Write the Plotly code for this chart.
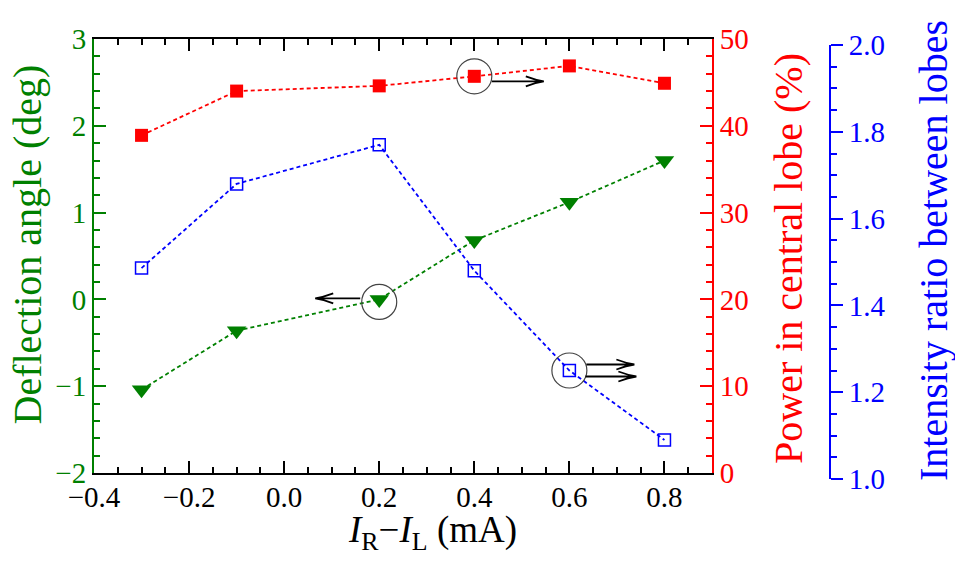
import plotly.graph_objects as go

# ---- data ----
current = [-0.3, -0.1, 0.2, 0.4, 0.6, 0.8]          # I_R - I_L (mA)
deflection = [-1.04, -0.36, 0.0, 0.68, 1.12, 1.60]  # deg
power = [38.9, 44.0, 44.6, 45.7, 46.9, 44.9]        # %
ratio = [1.486, 1.68, 1.77, 1.48, 1.25, 1.09]       # intensity ratio

GREEN = "#008000"
RED = "#ff0000"
BLUE = "#0000ff"
FONT = "Liberation Serif"
TICK = 29
TITLE = 40

W, H = 955, 563
L, R, T, B = 94, 125, 39, 84          # paper: x 94..830, y 39..479
PW, PH = W - L - R, H - T - B
PLOT_RIGHT, PLOT_BOTTOM, BLUE_TOP = 712, 473, 45

def px(xp):
    return (xp - L) / PW

def py(yp):
    return (H - B - yp) / PH

fig = go.Figure()
fig.add_trace(go.Scatter(
    x=current, y=deflection, yaxis="y", mode="lines+markers",
    line=dict(color=GREEN, width=1.8, dash="4px,3px"),
    marker=dict(symbol="triangle-down", size=17, color=GREEN, line=dict(width=0)),
    showlegend=False))
fig.add_trace(go.Scatter(
    x=current, y=power, yaxis="y2", mode="lines+markers",
    line=dict(color=RED, width=1.8, dash="4px,3px"),
    marker=dict(symbol="square", size=13, color=RED, line=dict(width=0)),
    showlegend=False))
fig.add_trace(go.Scatter(
    x=current, y=ratio, yaxis="y3", mode="lines+markers",
    line=dict(color=BLUE, width=1.8, dash="4px,3px"),
    marker=dict(symbol="square-open", size=12, color=BLUE, line=dict(width=1.5, color=BLUE)),
    showlegend=False))

def axis_common(color, ticks):
    return dict(showline=True, linecolor=color, linewidth=2, showgrid=False, zeroline=False,
                ticks=ticks, ticklen=12, tickwidth=2, tickcolor=color,
                tickfont=dict(family=FONT, size=TICK, color=color))

xa = axis_common("black", "inside")
xa.update(domain=[0, px(PLOT_RIGHT)], anchor="y", range=[-0.4, 0.9], tick0=-0.4, dtick=0.2,
          tickformat=".1f", mirror="ticks", ticklabelstandoff=-3,
          minor=dict(ticks="inside", ticklen=6, tickwidth=2, tickcolor="black", dtick=0.05,
                     tick0=-0.4, showgrid=False))
ya = axis_common(GREEN, "inside")
ya.update(domain=[py(PLOT_BOTTOM), 1], anchor="x", range=[-2, 3], tick0=-2, dtick=1,
          minor=dict(ticks="inside", ticklen=6, tickwidth=2, tickcolor=GREEN, dtick=0.2,
                     showgrid=False))
ya2 = axis_common(RED, "inside")
ya2.update(overlaying="y", side="right", anchor="x", range=[0, 50], tick0=0, dtick=10,
           minor=dict(ticks="inside", ticklen=6, tickwidth=2, tickcolor=RED, dtick=2,
                      showgrid=False))
ya3 = axis_common(BLUE, "outside")
ya3.update(domain=[0, py(BLUE_TOP)], anchor="free", position=1.0, side="right",
           range=[1.0, 2.0], tick0=1.0, dtick=0.2, tickformat=".1f",
           minor=dict(ticks="outside", ticklen=6, tickwidth=2, tickcolor=BLUE, dtick=0.05,
                      showgrid=False))

def title_ann(text, xp, yp, color, angle, size=TITLE):
    return dict(text=text, x=px(xp), y=py(yp), xref="paper", yref="paper",
                xanchor="center", yanchor="middle", showarrow=False, textangle=angle,
                font=dict(family=FONT, size=size, color=color))

annotations = [
    title_ann("Deflection angle (deg)", 27.5, 245, GREEN, -90),
    title_ann("Power in central lobe (%)", 788, 259, RED, -90),
    title_ann("Intensity ratio between lobes", 933, 251, BLUE, -90),
    title_ann("<i>I</i><sub>R</sub>\u2212<i>I</i><sub>L</sub> (mA)", 432, 532, "black", 0, 37),
]

def circle(xv, yv, yref, dy=0.0, r=17.5):
    return dict(type="circle", xref="x", yref=yref, xsizemode="pixel", ysizemode="pixel",
                xanchor=xv, yanchor=yv, x0=-r, x1=r, y0=-r + dy, y1=r + dy,
                line=dict(color="#444444", width=1.2), fillcolor="rgba(0,0,0,0)", layer="above")

def arrow(xv, yv, yref, x_start, x_tip, y_off):
    s = 1 if x_tip > x_start else -1
    hx = x_tip - s * 18
    path = (f"M {x_start},{y_off} L {x_tip},{y_off} "
            f"M {hx},{y_off + 5} Q {x_tip - s * 8},{y_off + 1.2} {x_tip},{y_off} "
            f"Q {x_tip - s * 8},{y_off - 1.2} {hx},{y_off - 5}")
    return dict(type="path", xref="x", yref=yref, xsizemode="pixel", ysizemode="pixel",
                xanchor=xv, yanchor=yv, path=path,
                line=dict(color="black", width=1.8), fillcolor="rgba(0,0,0,0)", layer="above")

shapes = [
    circle(current[2], deflection[2], "y", dy=-2.5),
    arrow(current[2], deflection[2], "y", -19, -64, 1),
    circle(current[4], ratio[4], "y3"),
    arrow(current[4], ratio[4], "y3", 17, 65, 6),
    arrow(current[4], ratio[4], "y3", 16, 67, -6),
    circle(current[3], power[3], "y2"),
    arrow(current[3], power[3], "y2", 17.5, 69.5, -5),
]

fig.update_layout(
    width=W, height=H, margin=dict(l=L, r=R, t=T, b=B, autoexpand=False),
    paper_bgcolor="white", plot_bgcolor="rgba(0,0,0,0)",
    font=dict(family=FONT),
    xaxis=xa, yaxis=ya, yaxis2=ya2, yaxis3=ya3,
    annotations=annotations, shapes=shapes, showlegend=False,
)

fig.write_html("out.html", config={"displayModeBar": False},
               post_script="document.body.style.margin='0px';")
